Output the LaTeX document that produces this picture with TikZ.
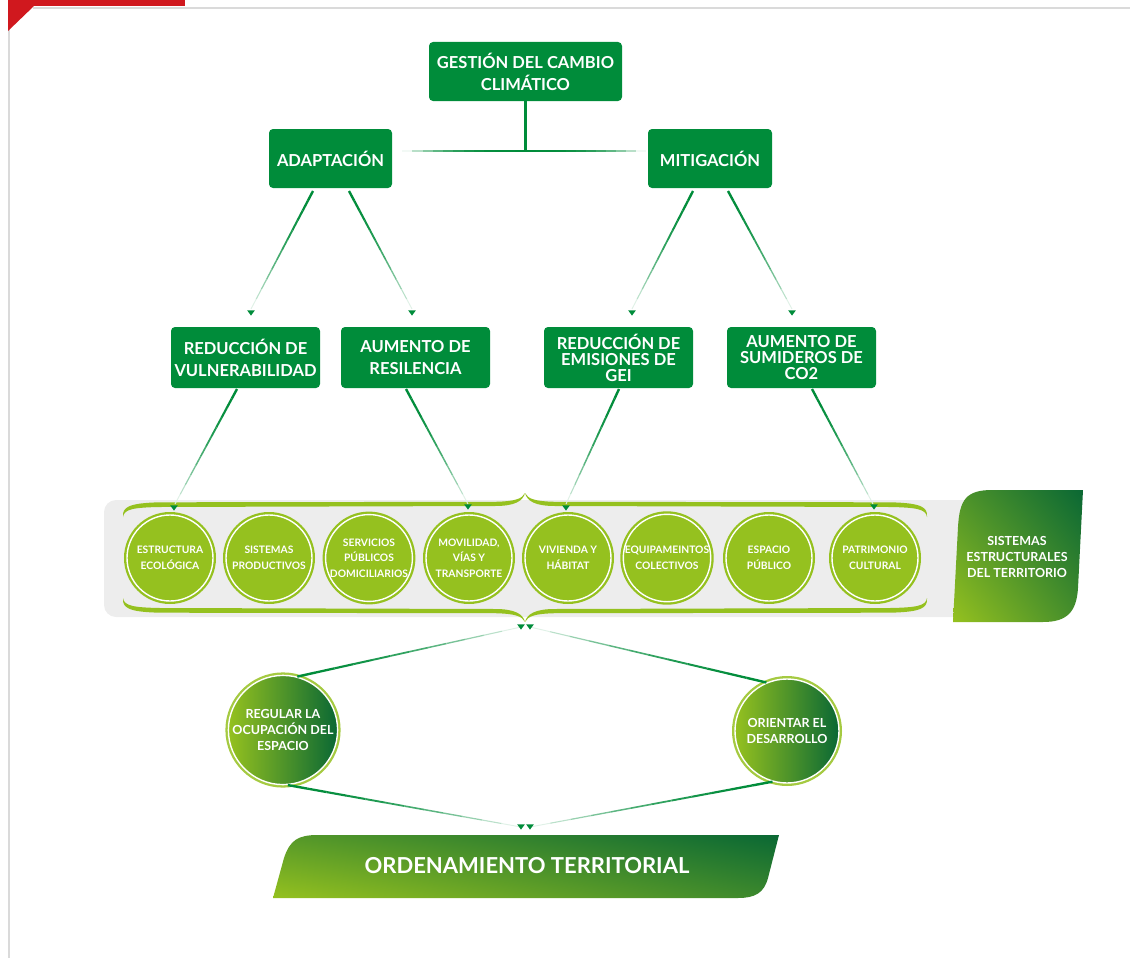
\documentclass[tikz,border=0pt]{standalone}
\usepackage{fontspec}
\setmainfont{Lato}
\usetikzlibrary{calc,shadings}
\definecolor{gbox}{RGB}{0,140,58}
\definecolor{lime}{RGB}{149,193,31}
\definecolor{dkg}{RGB}{10,104,52}
\definecolor{band}{RGB}{237,237,237}
\definecolor{framec}{RGB}{218,218,218}
\definecolor{redc}{RGB}{208,24,30}
\newcommand\fadeln[2]{%
  \foreach \i in {0,...,11}{%
    \pgfmathtruncatemacro\c{100-88*(\i/11)^2}%
    \pgfmathsetmacro\w{2.4-0.13*\i}%
    \pgfmathsetmacro\fa{\i/12}%
    \pgfmathsetmacro\fb{(\i+1)/12}%
    \draw[line width=\w pt, draw=gbox!\c!white] ($(#1)!\fa!(#2)$) -- ($(#1)!\fb!(#2)$);
  }}
\newcommand\fadeflat[2]{%
  \foreach \i in {0,...,11}{%
    \pgfmathtruncatemacro\c{100-95*(\i/11)^3}%
    \pgfmathsetmacro\fa{\i/12}%
    \pgfmathsetmacro\fb{(\i+1)/12}%
    \draw[line width=2.4pt, draw=gbox!\c!white] ($(#1)!\fa!(#2)$) -- ($(#1)!\fb!(#2)$);
  }}
\newcommand\tipdown[1]{\fill[gbox] ($(#1)+(-3.8,-2.6)$) -- ($(#1)+(3.8,-2.6)$) -- ($(#1)+(0,2.6)$) -- cycle;}
\newcommand\halfbrace{\fill[lime] (123,517) .. controls (122,507) and (129,503) .. (160,502.3) -- (495,501.8) .. controls (515,501.3) and (522,499) .. (525,493) .. controls (523,501) and (515,506) .. (495,506) -- (160,507) .. controls (134,507.5) and (124,509) .. (123,517) -- cycle;}
\begin{document}
\begin{tikzpicture}[x=1pt,y=-1pt,
  gb/.style={rectangle, rounded corners=4pt, fill=gbox, text=white, align=center, inner sep=0pt, font=\bfseries\fontsize{16.5}{22}\selectfont},
  sysc/.style={circle, minimum size=86pt, inner sep=0pt, fill=lime, draw=white, line width=1.4pt, preaction={draw=lime, line width=6pt}, text=white, align=center, font=\bfseries\fontsize{10.3}{15.5}\selectfont},
  objc/.style={circle, minimum size=104pt, inner sep=0pt, left color=lime, right color=dkg, draw=white, line width=1.4pt, preaction={draw=lime!85!white, line width=6pt}, text=white, align=center, font=\bfseries\fontsize{12.5}{16}\selectfont},
  wtext/.style={text=white, align=center, inner sep=0pt}]
\useasboundingbox (0,0) rectangle (1130,958);
% frame
\draw[framec, line width=2pt] (33,8.5) -- (1130,8.5);
\draw[framec, line width=2pt] (8.5,28) -- (8.5,958);
\fill[redc] (8,0) rectangle (185,6.5);
\fill[redc] (8,6) -- (34,6) -- (8,31) -- cycle;
% band
\fill[band, rounded corners=12pt] (104,500) rectangle (975,617);
\halfbrace
\begin{scope}[xshift=1050pt, xscale=-1]\halfbrace\end{scope}
\begin{scope}[yshift=-1115pt, yscale=-1]\halfbrace\end{scope}
\begin{scope}[xshift=1050pt, xscale=-1, yshift=-1115pt, yscale=-1]\halfbrace\end{scope}
% top boxes
\node[gb, minimum width=193pt, minimum height=59pt] (g) at (525.5,71.5) {GESTIÓN DEL CAMBIO\\CLIMÁTICO};
\node[gb, minimum width=123pt, minimum height=59pt] (ad) at (330.5,158.5) {ADAPTACIÓN};
\node[gb, minimum width=124pt, minimum height=59pt] (mi) at (710,158.5) {MITIGACIÓN};
\node[gb, minimum width=149pt, minimum height=61pt] (rv) at (245.5,357.5) {REDUCCIÓN DE\\VULNERABILIDAD};
\node[gb, minimum width=149pt, minimum height=61pt] (ar) at (415.5,357.5) {AUMENTO DE\\RESILENCIA};
\node[gb, minimum width=149pt, minimum height=61pt, font=\bfseries\fontsize{16.5}{16}\selectfont] (re) at (618.5,357.5) {REDUCCIÓN DE\\EMISIONES DE\\GEI};
\node[gb, minimum width=149pt, minimum height=61pt, font=\bfseries\fontsize{16.5}{16}\selectfont] (as) at (801.5,357.5) {AUMENTO DE\\SUMIDEROS DE\\CO2};
% connectors top
\coordinate (hl) at (402,151);
\coordinate (hr) at (646,151);
\coordinate (hc) at (g.south |- hl);
\fadeflat{hc}{hl}\fadeflat{hc}{hr}
\draw[gbox, line width=2.4pt] (g.south) -- (hc);
\coordinate (a1s) at (313,191); \coordinate (a1t) at (251,309);
\coordinate (a2s) at (349,191); \coordinate (a2t) at (412,309);
\coordinate (m1s) at (693,191); \coordinate (m1t) at (632,309);
\coordinate (m2s) at (728,191); \coordinate (m2t) at (792,309);
\fadeln{a1s}{a1t}\fadeln{a2s}{a2t}\fadeln{m1s}{m1t}\fadeln{m2s}{m2t}
\tipdown{251,313}\tipdown{412,313}\tipdown{632,313}\tipdown{792,313}
% system circles
\node[sysc] (c1) at (170,558) {ESTRUCTURA\\ECOLÓGICA};
\node[sysc] (c2) at (269,558) {SISTEMAS\\PRODUCTIVOS};
\node[sysc] (c3) at (369,558) {SERVICIOS\\PÚBLICOS\\DOMICILIARIOS};
\node[sysc] (c4) at (469,558) {MOVILIDAD,\\VÍAS Y\\TRANSPORTE};
\node[sysc] (c5) at (568,558) {VIVIENDA Y\\HÁBITAT};
\node[sysc] (c6) at (667,558) {EQUIPAMEINTOS\\COLECTIVOS};
\node[sysc] (c7) at (769,558) {ESPACIO\\PÚBLICO};
\node[sysc] (c8) at (875,558) {PATRIMONIO\\CULTURAL};
% connectors level2 -> circles
\coordinate (r1s) at (237,389); \coordinate (r1t) at (175,504);
\coordinate (r2s) at (406,389); \coordinate (r2t) at (468,504);
\coordinate (r3s) at (619,389); \coordinate (r3t) at (566,504);
\coordinate (r4s) at (812,389); \coordinate (r4t) at (873,504);
\fadeln{r1s}{r1t}\fadeln{r2s}{r2t}\fadeln{r3s}{r3t}\fadeln{r4s}{r4t}
\tipdown{174,508}\tipdown{468,507}\tipdown{566,508}\tipdown{874,507}
% sistemas label
\shade[lower left=lime, upper right=dkg, upper left=lime!50!dkg, lower right=lime!40!dkg]
  (953,622) -- (958,527) .. controls (959.5,500) and (966,490) .. (992,490) -- (1083,490) -- (1078,588) .. controls (1076.5,612) and (1067,622) .. (1043,622) -- cycle;
\node[wtext, font=\bfseries\fontsize{12.5}{16}\selectfont] (sist) at (1017,557) {SISTEMAS\\ESTRUCTURALES\\DEL TERRITORIO};
% objective circles
\node[objc] (reg) at (283,730) {REGULAR LA\\OCUPACIÓN DEL\\ESPACIO};
\node[objc] (ori) at (787,731) {ORIENTAR EL\\DESARROLLO};
\coordinate (bt1) at (521,627); \coordinate (bt2) at (530,627);
\coordinate (ot1) at (521,827); \coordinate (ot2) at (530,827);
\fadeln{reg.75}{bt1}\fadeln{ori.113}{bt2}
\fadeln{reg.-85}{ot1}\fadeln{ori.-106}{ot2}
\tipdown{bt1}\tipdown{bt2}\tipdown{ot1}\tipdown{ot2}
% ordenamiento
\shade[lower left=lime, upper right=dkg, upper left=lime!55!dkg, lower right=lime!35!dkg]
  (273,898) -- (284,858) .. controls (290,840) and (298,835) .. (318,835) -- (779,835) -- (768,878) .. controls (764,893) and (755,898) .. (738,898) -- cycle;
\node[wtext, font=\bfseries\fontsize{22}{26}\selectfont] (ord) at (527,866) {ORDENAMIENTO TERRITORIAL};
\end{tikzpicture}
\end{document}
